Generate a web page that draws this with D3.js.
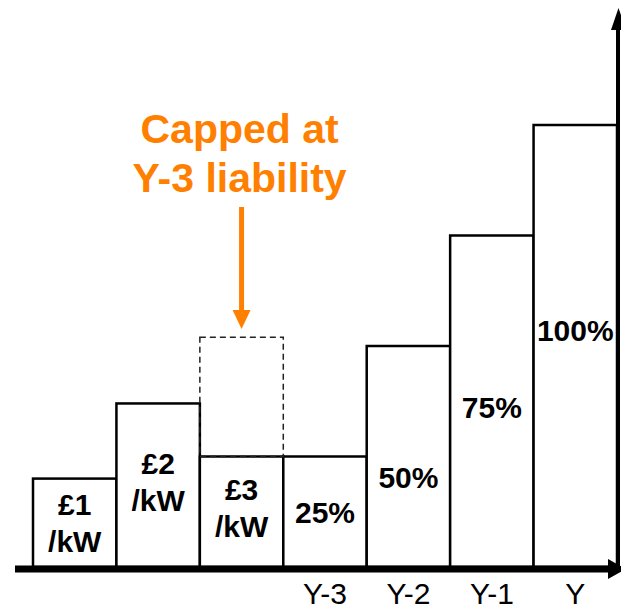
<!DOCTYPE html>
<html>
<head>
<meta charset="utf-8">
<script src="https://cdn.jsdelivr.net/npm/d3@7"></script>
<style>
  body { margin: 0; background: #fff; }
  text { font-family: "Liberation Sans", Arial, sans-serif; }
</style>
</head>
<body>
<svg id="chart"></svg>
<script>
// datos del gráfico
const categories = ["c1", "c2", "c3", "y3", "y2", "y1", "y0"];
const values = [20, 37, 25, 25, 50, 75, 100];
const barLabels = [["£1", "/kW"], ["£2", "/kW"], ["£3", "/kW"], ["25%"], ["50%"], ["75%"], ["100%"]];
const tickLabels = ["", "", "", "Y-3", "Y-2", "Y-1", "Y"];
const cappedCategory = "c3";
const uncappedValue = 52;
const noteLines = ["Capped at", "Y-3 liability"];

const width = 621;
const height = 607;
const orange = "#ff7f00";

const svg = d3.select("#chart")
    .attr("width", width)
    .attr("height", height);

// escalas
const x = d3.scaleBand()
    .domain(categories)
    .range([33, 617])
    .padding(0);

const y = d3.scaleLinear()
    .domain([0, 100])
    .range([567, 125]);

const data = categories.map((c, i) => ({ cat: c, value: values[i], label: barLabels[i] }));

// barras
svg.append("g")
  .selectAll("rect")
  .data(data)
  .join("rect")
    .attr("x", d => x(d.cat))
    .attr("y", d => y(d.value))
    .attr("width", x.bandwidth())
    .attr("height", d => y(0) - y(d.value))
    .attr("fill", "white")
    .attr("stroke", "black")
    .attr("stroke-width", 2.5);

// caja punteada (valor sin tope)
svg.append("rect")
    .attr("x", x(cappedCategory))
    .attr("y", y(uncappedValue))
    .attr("width", x.bandwidth())
    .attr("height", y(values[categories.indexOf(cappedCategory)]) - y(uncappedValue))
    .attr("fill", "none")
    .attr("stroke", "#222")
    .attr("stroke-width", 1.5)
    .attr("stroke-dasharray", "6,4");

// etiquetas dentro de las barras (centradas, con pequeños ajustes a mano)
const lineH = 37;
const nudge = [0, -4, -4, 0, 20, 6, -16];
const lbl = svg.append("g")
  .selectAll("text")
  .data(data)
  .join("text")
    .attr("text-anchor", "middle")
    .attr("font-size", 30)
    .attr("font-weight", "bold")
    .attr("fill", "black")
    .attr("transform", (d, i) => {
      const mid = (y(d.value) + y(0)) / 2 + nudge[i];
      const top = mid - (d.label.length - 1) * lineH / 2 + 11;
      return `translate(${x(d.cat) + x.bandwidth() / 2},${top})`;
    });

lbl.selectAll("tspan")
  .data(d => d.label)
  .join("tspan")
    .attr("x", 0)
    .attr("y", (d, i) => i * lineH)
    .text(d => d);

// eje horizontal
const xAxis = svg.append("g")
    .attr("transform", `translate(0,${y(0) + 2})`)
    .call(d3.axisBottom(x).tickSize(0).tickFormat((d, i) => tickLabels[i]));
xAxis.select(".domain").remove();
xAxis.selectAll("text")
    .attr("font-size", 30)
    .attr("font-family", "Liberation Sans, Arial, sans-serif")
    .attr("fill", "black")
    .attr("dy", 0)
    .attr("y", 35);

// flechas de los ejes
svg.append("line")
    .attr("x1", 15).attr("x2", 612)
    .attr("y1", y(0) + 2).attr("y2", y(0) + 2)
    .attr("stroke", "black").attr("stroke-width", 7);
svg.append("path")
    .attr("d", `M608,${y(0) - 8}L626,${y(0) + 2}L608,${y(0) + 12}Z`)
    .attr("fill", "black");

svg.append("line")
    .attr("x1", 618).attr("x2", 618)
    .attr("y1", y(0) + 5).attr("y2", 28)
    .attr("stroke", "black").attr("stroke-width", 4);
svg.append("path")
    .attr("d", "M611,30L618.5,8L626,30Z")
    .attr("fill", "black");

// nota en naranja
const noteX = x(cappedCategory) + x.bandwidth() / 2;
svg.append("text")
    .attr("text-anchor", "middle")
    .attr("font-size", 41)
    .attr("font-weight", "bold")
    .attr("fill", orange)
  .selectAll("tspan")
  .data(noteLines)
  .join("tspan")
    .attr("x", noteX - 2)
    .attr("y", (d, i) => 143 + i * 49)
    .text(d => d);

svg.append("line")
    .attr("x1", noteX).attr("x2", noteX)
    .attr("y1", 207).attr("y2", 312)
    .attr("stroke", orange).attr("stroke-width", 5);
svg.append("path")
    .attr("d", `M${noteX - 9},310L${noteX + 9},310L${noteX},329Z`)
    .attr("fill", orange);
</script>
</body>
</html>
